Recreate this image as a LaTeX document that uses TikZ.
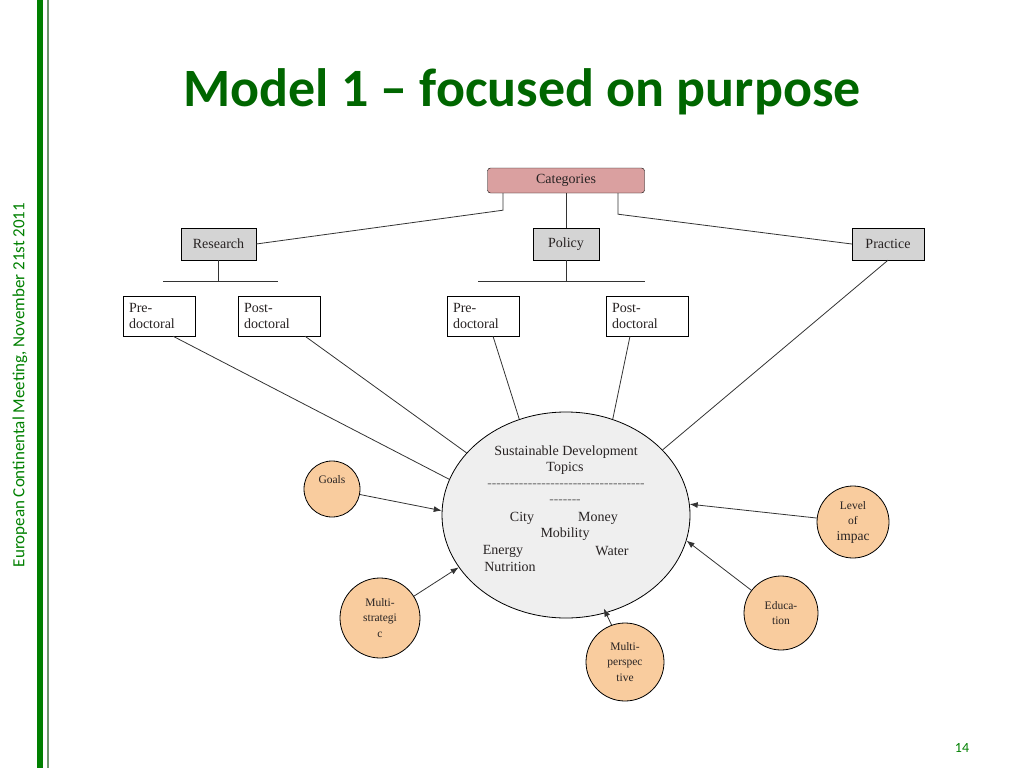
\documentclass[tikz,border=0pt]{standalone}
\usepackage{fontspec}
\setmainfont{Liberation Serif}
\newfontfamily\slidefont{Carlito}
\usetikzlibrary{arrows.meta,shapes.geometric}

\definecolor{slidegreen}{RGB}{0,128,0}
\definecolor{titlegreen}{RGB}{0,102,0}
\definecolor{barthin}{RGB}{112,150,112}
\definecolor{catpink}{RGB}{218,160,160}
\definecolor{boxgray}{RGB}{212,212,212}
\definecolor{topicgray}{RGB}{239,239,239}
\definecolor{aspectorange}{RGB}{249,204,158}
\definecolor{inkgray}{RGB}{40,35,35}

\begin{document}
\begin{tikzpicture}[
  x=1pt, y=-1pt,
  headbox/.style={draw, fill=boxgray, minimum height=32pt, inner sep=2pt, text=inkgray, font=\fontsize{14}{16}\selectfont},
  catbox/.style={draw, fill=catpink, rounded corners=3pt, minimum width=157pt, minimum height=25pt, text=inkgray, font=\fontsize{14}{16}\selectfont},
  leaf/.style={draw, fill=white, align=left, inner xsep=6pt, minimum height=40pt, text=inkgray, font=\fontsize{14}{16}\selectfont},
  topic/.style={ellipse, draw, thick, fill=topicgray, minimum width=248pt, minimum height=206pt},
  topictext/.style={text=inkgray, inner sep=1pt, font=\fontsize{14}{16}\selectfont},
  dashtext/.style={text=black!60, inner sep=1pt, font=\fontsize{13.5}{14}\selectfont\addfontfeatures{Ligatures=TeXOff}},
  aspect/.style={circle, draw, thick, fill=aspectorange, align=center, inner sep=1pt, text=inkgray, font=\fontsize{11.5}{15.5}\selectfont},
  link/.style={draw=black!80, thick},
  arrow/.style={-{Latex[length=8pt,width=6pt]}, draw=black!80, thick}
]
\useasboundingbox (0,0) rectangle (1024,768);

% slide frame
\fill[slidegreen] (37,0) rectangle (43,768);
\fill[barthin] (47,0) rectangle (49,768);
\node[rotate=90, text=slidegreen, font=\slidefont\fontsize{17}{20}\selectfont] (side) at (20,385)
  {European Continental Meeting, November 21st 2011};
\node[anchor=base, text=titlegreen, font=\slidefont\bfseries\fontsize{54}{60}\selectfont] (title) at (522,106)
  {Model 1 \textendash{} focused on purpose};
\node[text=slidegreen, font=\slidefont\fontsize{14}{16}\selectfont] (pageno) at (962,748) {14};

% categories
\node[catbox] (cat) at (566,180.5) {Categories};
\node[headbox, minimum width=75pt] (research) at (218.5,244) {Research};
\node[headbox, minimum width=66pt] (policy) at (566,244) {Policy};
\node[headbox, minimum width=72pt] (practice) at (888,244) {Practice};

\draw[link] ([xshift=-63pt]cat.south) -- ++(0,17) -- (research.east);
\draw[link] (cat.south) -- (policy.north);
\draw[link] ([xshift=52pt]cat.south) -- ++(0,21) -- (practice.west);

\coordinate (rbarL) at (163,281);
\coordinate (rbarR) at (278,281);
\coordinate (pbarL) at (478,281);
\coordinate (pbarR) at (645,281);
\draw[link] (rbarL) -- (rbarR);
\draw[link] (research.south) -- (research.south |- rbarL);
\draw[link] (pbarL) -- (pbarR);
\draw[link] (policy.south) -- (policy.south |- pbarL);

\node[leaf, text width=60pt] (rpre) at (159,316) {Pre-\\doctoral};
\node[leaf, text width=70pt] (rpost) at (279,316) {Post-\\doctoral};
\node[leaf, text width=60pt] (ppre) at (483,316) {Pre-\\doctoral};
\node[leaf, text width=70pt] (ppost) at (647,316) {Post-\\doctoral};

% topics
\node[topic] (topics) at (566,515) {};
\node[topictext] (sdt1) at (566,452) {Sustainable Development};
\node[topictext] (sdt2) at (565,468) {Topics};
\node[dashtext] (dash1) at (566,486) {-----------------------------------};
\node[dashtext] (dash2) at (565,502) {-------};
\node[topictext] (city) at (522,518) {City};
\node[topictext] (money) at (598,518) {Money};
\node[topictext] (mobility) at (565,534) {Mobility};
\node[topictext] (energy) at (503,551) {Energy};
\node[topictext] (water) at (612,551) {Water};
\node[topictext] (nutrition) at (510,567) {Nutrition};

\draw[link] ([xshift=14pt]rpre.south) -- (topics.163);
\draw[link] ([xshift=26pt]rpost.south) -- (topics.148);
\draw[link] ([xshift=10pt]ppre.south) -- (topics.116);
\draw[link] ([xshift=-17pt]ppost.south) -- (topics.64);
\draw[link] (practice.south) -- (topics.34);

% aspects
\node[aspect, minimum size=56pt] (goals) at (332,489) {Goals\\[4pt]};
\node[aspect, minimum size=80pt] (mstrat) at (380,618) {Multi-\\strategi\\c};
\node[aspect, minimum size=78pt] (mpersp) at (625,662) {Multi-\\perspec\\tive};
\node[aspect, minimum size=74pt] (educ) at (781,613) {Educa-\\tion};
\node[aspect, minimum size=72pt] (level) at (853,522) {Level\\of\\{\fontsize{13.5}{15.5}\selectfont impac}};

\draw[arrow] (goals) -- (topics.178);
\draw[arrow] (mstrat) -- (topics.206);
\draw[arrow] (mpersp.110) -- ([yshift=5pt]topics.291);
\draw[arrow] (educ) -- (topics.348);
\draw[arrow] (level) -- (topics.5);

\end{tikzpicture}
\end{document}
